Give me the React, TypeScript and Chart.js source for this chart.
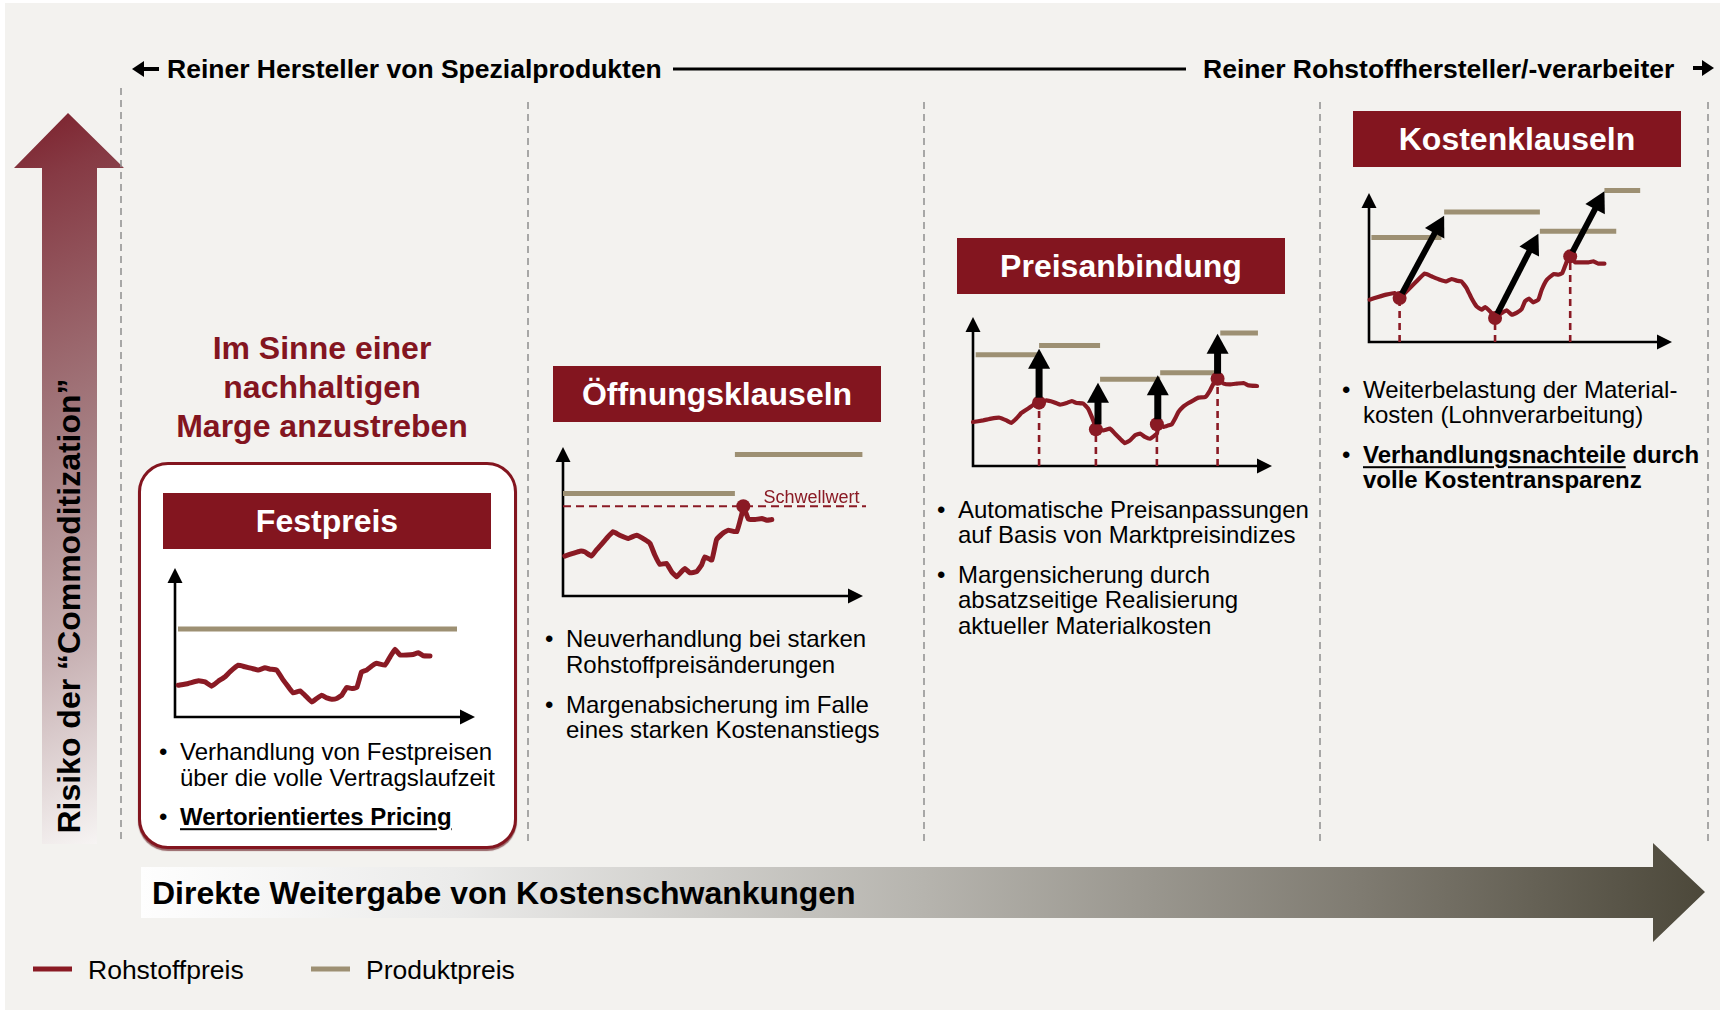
import React, { useEffect, useRef } from "react";
import { Chart, registerables } from "chart.js";

Chart.register(...registerables);

const FONT = '"Liberation Sans", Arial, Helvetica, sans-serif';
const RED = "#83151f";
const LINE_RED = "#8a1a24";
const TAN = "#9d9073";

type Pt = [number, number];
type Seg = [number, number, number];
type Arrow = [number, number, number, number];

// ---------------- DATA ----------------
const legendLabels = ["Rohstoffpreis", "Produktpreis"];
const columnTitles = ["Festpreis", "Öffnungsklauseln", "Preisanbindung", "Kostenklauseln"];

// Chart 1: Festpreis
const festRohstoff: Pt[] = [
  [1.1, 21.3], [4.4, 22.5], [7.8, 24.3], [10, 23.6], [12.2, 20.7], [14.4, 24], [16.7, 27], [18.3, 30.3],
  [21.1, 34.8], [23.3, 33.7], [25.6, 32.6], [27.8, 31.5], [30, 33], [31.7, 32.1], [33.9, 31.5], [36.1, 24.7],
  [37.8, 20.2], [39.4, 16.2], [41.7, 17.5], [43.3, 14.6], [45.6, 10.1], [47.2, 12.4], [48.9, 14.6], [50.6, 12.8],
  [52.2, 11.9], [53.9, 12.4], [55.6, 14.6], [57.2, 19.8], [58.9, 19.1], [60.6, 19.8], [62.2, 30.3], [63.9, 31.5],
  [65.6, 34.2], [67.2, 36], [70, 34.8], [71.7, 40.4], [73.3, 45.4], [75, 41.6], [77.2, 41.6], [79.4, 42],
  [81.1, 43.1], [82.8, 41.1], [85, 40.9],
];
const festProdukt: Seg[] = [[1, 94, 59]];

// Chart 2: Öffnungsklauseln
const oeffRohstoff: Pt[] = [
  [0.6, 26.8], [3.3, 28.6], [5.6, 30.1], [7.2, 29.7], [9.5, 26.8], [11.1, 30.8], [12.8, 34.6], [14.5, 38.6],
  [16.7, 43.1], [18.9, 40.8], [21.7, 38.6], [24.5, 40.8], [27.3, 37.9], [29, 35.3], [30.6, 27.5], [32.3, 21.2],
  [34.5, 21.9], [36.2, 16.3], [37.9, 12.9], [39.5, 16.3], [40.6, 18.5], [42.3, 15.6], [44.5, 16.3], [46.2, 20.8],
  [47.3, 26.3], [49.6, 24.1], [51.2, 37.9], [53.5, 42.4], [55.1, 44.2], [57.9, 43.1], [59.6, 54.9], [60.1, 60.3],
  [61.8, 51.6], [64, 51.3], [66.3, 52], [67.9, 50.9], [69.6, 51.3],
];
const oeffProdukt: Seg[] = [[0, 57.3, 68.8], [57.3, 99.8, 94.9]];
const oeffSchwelle = 60.3;
const oeffSchwelleLabel = "Schwellwert";
const oeffPunkte: Pt[] = [[60.1, 60.3]];

// Chart 3: Preisanbindung
const preisRohstoff: Pt[] = [
  [0, 29.5], [3.4, 30.6], [6.1, 31.8], [8.9, 32.4], [11.2, 30.6], [12.8, 28.9], [14.5, 31.8], [16.2, 35.6],
  [18.4, 38.5], [20.7, 41.8], [22.3, 43], [24.6, 44.1], [26.8, 43], [29.1, 41.2], [31.3, 42.3], [33, 43.6],
  [34.6, 42.3], [36.9, 41.8], [38.5, 38.5], [40.2, 30.6], [41.3, 24.6], [43.6, 23.9], [45.8, 25.1], [47.5, 21.7],
  [49.2, 18.3], [50.8, 15.4], [52.5, 17.2], [54.2, 20.6], [55.9, 21.7], [57.5, 19.5], [59.2, 18.3], [61.5, 21.7],
  [62, 28], [63.7, 26.2], [65.4, 27.3], [66.5, 28], [67.6, 31.8], [68.7, 36.2], [70.4, 40], [72.1, 42.3],
  [73.7, 44.1], [75.4, 45.9], [77.7, 46.3], [79.3, 50.8], [81, 57.5], [82.1, 57.9], [83.8, 55.3], [86, 54.8],
  [88.3, 55.3], [90.5, 55.7], [92.2, 54.1], [95, 53.7],
];
const preisProdukt: Seg[] = [
  [0.9, 22.1, 74.7], [22.1, 42.5, 80.8], [42.5, 62.6, 58.2], [62.6, 82.7, 62.6], [82.7, 95.3, 89.3],
];
const preisPunkte: Pt[] = [[22.1, 42.5], [41.1, 24.6], [61.5, 28], [81.8, 58.6]];
const preisPfeile: Arrow[] = [
  [22.1, 42.5, 22.1, 78.7], [41.8, 24.6, 41.8, 55.9], [61.8, 28, 61.8, 60.9], [81.8, 58.6, 81.8, 88.8],
];

// Chart 4: Kostenklauseln
const kostRohstoff: Pt[] = [
  [0.2, 28.4], [3, 30.2], [5.7, 31.8], [8.5, 32.9], [10.1, 29.5], [12.9, 35.1], [15.7, 40.7], [18.4, 45.9],
  [20.6, 44.1], [23.4, 41.8], [25.6, 40.7], [27.2, 42.3], [28.9, 41.2], [30.5, 40.7], [32.2, 36.2], [33.8, 29.5],
  [35.5, 23.9], [37.2, 21.7], [38.3, 23.5], [39.9, 20.6], [41.6, 16.8], [43.8, 19.5], [45.4, 21.3], [47.1, 18.3],
  [48.7, 19.5], [50.4, 22.1], [51.5, 27.3], [52.8, 29.1], [54.2, 26.6], [55.9, 28.4], [57, 35.1], [58.7, 41.8],
  [60.9, 45.6], [62.5, 45.2], [63.8, 46.3], [65.3, 54.1], [66.4, 57.5], [68, 53.5], [70.2, 53.5], [72.4, 53.5],
  [74.1, 54.1], [75.7, 52.6], [77.7, 52.6],
];
const kostProdukt: Seg[] = [[0.8, 23.9, 70.2], [24.8, 56.4, 87.2], [56.4, 81.6, 74.3], [77.7, 89.5, 101.6]];
const kostPunkte: Pt[] = [[10.1, 29.5], [41.6, 16.1], [66.4, 57.5]];
const kostPfeile: Arrow[] = [
  [10.1, 29.5, 24.8, 84.8], [41.6, 16.1, 55.9, 72.7], [66.4, 57.5, 77.7, 101.1],
];

// ---------------- CHART BUILDING ----------------
interface MiniSpec {
  rohstoff: Pt[];
  produkt: Seg[];
  punkte: Pt[];
  pfeile: Arrow[];
  drops: boolean;
  schwelle?: number;
  schwelleLabel?: string;
  lineWidth: number;
  shaft: number;
}

const specs: MiniSpec[] = [
  { rohstoff: festRohstoff, produkt: festProdukt, punkte: [], pfeile: [], drops: false, lineWidth: 5, shaft: 7 },
  {
    rohstoff: oeffRohstoff, produkt: oeffProdukt, punkte: oeffPunkte, pfeile: [], drops: false,
    schwelle: oeffSchwelle, schwelleLabel: oeffSchwelleLabel, lineWidth: 5, shaft: 7,
  },
  { rohstoff: preisRohstoff, produkt: preisProdukt, punkte: preisPunkte, pfeile: preisPfeile, drops: true, lineWidth: 4.2, shaft: 7 },
  { rohstoff: kostRohstoff, produkt: kostProdukt, punkte: kostPunkte, pfeile: kostPfeile, drops: true, lineWidth: 4.2, shaft: 6 },
];

const chartBoxes = [
  { left: 175, top: 568, width: 300, height: 149 },
  { left: 563, top: 447, width: 300, height: 149 },
  { left: 973, top: 317, width: 299, height: 149 },
  { left: 1369, top: 193, width: 303, height: 149 },
];
const PAD = 26;

function buildDatasets(spec: MiniSpec): any[] {
  const ds: any[] = [];
  if (spec.drops) {
    spec.punkte.forEach(([x, y]) =>
      ds.push({
        data: [{ x, y: 0 }, { x, y }], borderColor: LINE_RED, borderWidth: 2.6, borderDash: [7, 5],
        pointRadius: 0, order: 5, clip: false,
      })
    );
  }
  if (spec.schwelle !== undefined) {
    ds.push({
      data: [{ x: 0, y: spec.schwelle }, { x: 101, y: spec.schwelle }], borderColor: LINE_RED, borderWidth: 2,
      borderDash: [8, 5], pointRadius: 0, order: 4, clip: false,
    });
  }
  spec.produkt.forEach(([a, b, v]) =>
    ds.push({
      label: legendLabels[1], data: [{ x: a, y: v }, { x: b, y: v }], borderColor: TAN, borderWidth: 5,
      pointRadius: 0, order: 3, clip: false, borderCapStyle: "butt",
    })
  );
  ds.push({
    label: legendLabels[0], data: spec.rohstoff.map(([x, y]) => ({ x, y })), borderColor: LINE_RED,
    borderWidth: spec.lineWidth, pointRadius: 0, order: 2, clip: false, borderJoinStyle: "round",
    borderCapStyle: "round", tension: 0.1,
  });
  if (spec.punkte.length) {
    ds.push({
      data: spec.punkte.map(([x, y]) => ({ x, y })), showLine: false, pointRadius: 7,
      pointBackgroundColor: LINE_RED, pointBorderColor: LINE_RED, pointBorderWidth: 0, order: 1, clip: false,
    });
  }
  spec.pfeile.forEach(([x1, y1, x2, y2]) =>
    ds.push({
      data: [{ x: x1, y: y1 }, { x: x2, y: y2 }], showLine: false, pointRadius: 0, order: 0, clip: false,
      pfeil: { shaft: spec.shaft, head: 20, half: 11 },
    })
  );
  return ds;
}

const axesPlugin = {
  id: "miniAxes",
  beforeDatasetsDraw(chart: any) {
    const { ctx, chartArea } = chart;
    const { left, right, top, bottom } = chartArea;
    const head = 15;
    const half = 7.5;
    ctx.save();
    ctx.strokeStyle = "#000";
    ctx.fillStyle = "#000";
    ctx.lineWidth = 2.6;
    ctx.beginPath();
    ctx.moveTo(left, top + head - 1);
    ctx.lineTo(left, bottom);
    ctx.lineTo(right - head + 1, bottom);
    ctx.stroke();
    ctx.beginPath();
    ctx.moveTo(left, top);
    ctx.lineTo(left - half, top + head);
    ctx.lineTo(left + half, top + head);
    ctx.closePath();
    ctx.fill();
    ctx.beginPath();
    ctx.moveTo(right, bottom);
    ctx.lineTo(right - head, bottom - half);
    ctx.lineTo(right - head, bottom + half);
    ctx.closePath();
    ctx.fill();
    ctx.restore();
  },
};

const arrowPlugin = {
  id: "pfeile",
  afterDatasetsDraw(chart: any) {
    const ctx = chart.ctx;
    chart.data.datasets.forEach((ds: any, i: number) => {
      if (!ds.pfeil) return;
      const meta = chart.getDatasetMeta(i);
      const a = meta.data[0];
      const b = meta.data[1];
      if (!a || !b) return;
      const { shaft, head, half } = ds.pfeil;
      const dx = b.x - a.x;
      const dy = b.y - a.y;
      const len = Math.hypot(dx, dy);
      const ux = dx / len;
      const uy = dy / len;
      const sx = a.x + ux * 5;
      const sy = a.y + uy * 5;
      const bx = b.x - ux * head;
      const by = b.y - uy * head;
      ctx.save();
      ctx.strokeStyle = "#000";
      ctx.fillStyle = "#000";
      ctx.lineWidth = shaft;
      ctx.lineCap = "butt";
      ctx.beginPath();
      ctx.moveTo(sx, sy);
      ctx.lineTo(bx + ux, by + uy);
      ctx.stroke();
      ctx.beginPath();
      ctx.moveTo(b.x, b.y);
      ctx.lineTo(bx - uy * half, by + ux * half);
      ctx.lineTo(bx + uy * half, by - ux * half);
      ctx.closePath();
      ctx.fill();
      ctx.restore();
    });
  },
};

const thresholdLabelPlugin = {
  id: "schwelleLabel",
  afterDatasetsDraw(chart: any, _args: any, opts: any) {
    if (!opts || !opts.text) return;
    const { ctx, scales } = chart;
    const px = scales.x.getPixelForValue(opts.x);
    const py = scales.y.getPixelForValue(opts.y);
    ctx.save();
    ctx.font = `18px ${FONT}`;
    ctx.fillStyle = LINE_RED;
    ctx.textAlign = "left";
    ctx.textBaseline = "alphabetic";
    ctx.fillText(opts.text, px, py - 3);
    ctx.restore();
  },
};

function MiniChart({ spec, box }: { spec: MiniSpec; box: { left: number; top: number; width: number; height: number } }) {
  const ref = useRef<HTMLCanvasElement | null>(null);
  useEffect(() => {
    if (!ref.current) return;
    const chart = new Chart(ref.current, {
      type: "line",
      data: { datasets: buildDatasets(spec) },
      options: {
        animation: false,
        responsive: false,
        maintainAspectRatio: false,
        events: [],
        layout: { padding: PAD },
        plugins: {
          legend: { display: false },
          tooltip: { enabled: false },
          schwelleLabel: spec.schwelle !== undefined ? { text: spec.schwelleLabel, x: 66.8, y: spec.schwelle } : {},
        } as any,
        scales: {
          x: { type: "linear", min: 0, max: 100, display: false },
          y: { type: "linear", min: 0, max: 100, display: false },
        },
      },
      plugins: [axesPlugin, arrowPlugin, thresholdLabelPlugin],
    } as any);
    return () => chart.destroy();
  }, [spec]);
  const w = box.width + 2 * PAD;
  const h = box.height + 2 * PAD;
  return (
    <canvas
      ref={ref}
      width={w}
      height={h}
      style={{ position: "absolute", left: box.left - PAD, top: box.top - PAD, width: w, height: h }}
    />
  );
}

// ---------------- TEXT HELPERS ----------------
function Txt(props: {
  x: number; y: number; size?: number; bold?: boolean; color?: string; center?: boolean; children: React.ReactNode;
}) {
  const { x, y, size = 24, bold = false, color = "#000", center = false, children } = props;
  return (
    <div
      style={{
        position: "absolute", left: x, top: y, transform: center ? "translate(-50%,-50%)" : "translateY(-50%)",
        fontSize: size, fontWeight: bold ? 700 : 400, color, whiteSpace: "nowrap", lineHeight: 1.15, fontFamily: FONT,
      }}
    >
      {children}
    </div>
  );
}

function Bullet({ x, lines, bold = false }: { x: number; lines: [React.ReactNode, number][]; bold?: boolean }) {
  return (
    <>
      <Txt x={x - 21} y={lines[0][1]} size={24}>•</Txt>
      {lines.map(([t, y], i) => (
        <Txt key={i} x={x} y={y} size={24} bold={bold}>{t}</Txt>
      ))}
    </>
  );
}

function TitleBox({ x, y, text }: { x: number; y: number; text: string }) {
  return (
    <div
      style={{
        position: "absolute", left: x, top: y, width: 328, height: 56, background: RED, color: "#fff",
        fontFamily: FONT, fontWeight: 700, fontSize: 32, display: "flex", alignItems: "center", justifyContent: "center",
      }}
    >
      {text}
    </div>
  );
}

const dashedX = [121, 528, 924, 1320, 1708];

export default function App() {
  return (
    <div
      style={{
        position: "absolute", left: 0, top: 0, width: 1725, height: 1013, background: "#ffffff", overflow: "hidden",
        fontFamily: FONT,
      }}
    >
      <div style={{ position: "absolute", left: 5, top: 3, width: 1715, height: 1007, background: "#f3f2ef" }} />
      <svg width={1725} height={1013} style={{ position: "absolute", left: 0, top: 0 }}>
        <defs>
          <linearGradient id="vgrad" gradientUnits="userSpaceOnUse" x1="0" y1="110" x2="330" y2="850">
            <stop offset="0" stopColor="#7a1c28" />
            <stop offset="0.1" stopColor="#863a44" />
            <stop offset="0.4" stopColor="#a47c80" />
            <stop offset="0.65" stopColor="#c8b2b4" />
            <stop offset="0.88" stopColor="#f7f5f4" />
          </linearGradient>
          <linearGradient id="hgrad" x1="0" y1="0" x2="1" y2="0">
            <stop offset="0" stopColor="#fefefe" />
            <stop offset="0.2" stopColor="#ebebea" />
            <stop offset="0.5" stopColor="#b6b4ae" />
            <stop offset="0.78" stopColor="#7f7b71" />
            <stop offset="1" stopColor="#4c483a" />
          </linearGradient>
        </defs>
        <polygon points="68,113 124,168 97,168 97,844 42,844 42,168 14,168" fill="url(#vgrad)" />
        {dashedX.map((x, i) => (
          <line key={i} x1={x} x2={x} y1={i === 0 ? 88 : 102} y2={844} stroke="#8f8f8f" strokeWidth={1.5} strokeDasharray="7 5" />
        ))}
        <polygon points="141,867 1653,867 1653,843 1705,892 1653,942 1653,918 141,918" fill="url(#hgrad)" />
        {/* header arrows */}
        <polygon points="132,69 144,61 144,67 159,67 159,71 144,71 144,77" fill="#000" />
        <line x1={673} x2={1186} y1={69} y2={69} stroke="#000" strokeWidth={3} />
        <polygon points="1714,68 1702,60 1702,66 1693,66 1693,70 1702,70 1702,76" fill="#000" />
        {/* legend marks */}
        <line x1={33} x2={72} y1={969} y2={969} stroke={LINE_RED} strokeWidth={5} />
        <line x1={311} x2={350} y1={969} y2={969} stroke={TAN} strokeWidth={5} />
      </svg>

      {/* header texts */}
      <Txt x={167} y={69} size={26.5} bold>Reiner Hersteller von Spezialprodukten</Txt>
      <Txt x={1203} y={69} size={26.5} bold>Reiner Rohstoffhersteller/-verarbeiter</Txt>

      {/* vertical axis label */}
      <div
        style={{
          position: "absolute", left: 69, top: 606, transform: "translate(-50%,-50%) rotate(-90deg)",
          fontSize: 32, fontWeight: 700, whiteSpace: "nowrap", color: "#000", lineHeight: 1,
        }}
      >
        Risiko der “Commoditization”
      </div>

      {/* column 1 */}
      <Txt x={322} y={348} size={32} bold color={RED} center>Im Sinne einer</Txt>
      <Txt x={322} y={387} size={32} bold color={RED} center>nachhaltigen</Txt>
      <Txt x={322} y={426} size={32} bold color={RED} center>Marge anzustreben</Txt>
      <div
        style={{
          position: "absolute", left: 138, top: 462, width: 379, height: 387, boxSizing: "border-box",
          border: `3px solid ${RED}`, borderRadius: 30, background: "#ffffff", boxShadow: "0 2px 1px rgba(90,10,15,0.6)",
        }}
      />
      <TitleBox x={163} y={493} text={columnTitles[0]} />
      <Bullet x={180} lines={[["Verhandlung von Festpreisen", 752], ["über die volle Vertragslaufzeit", 778]]} />
      <Bullet x={180} bold lines={[[<span style={{ textDecoration: "underline", textUnderlineOffset: 3 }}>Wertorientiertes Pricing</span>, 817]]} />

      {/* column 2 */}
      <TitleBox x={553} y={366} text={columnTitles[1]} />
      <Bullet x={566} lines={[["Neuverhandlung bei starken", 639], ["Rohstoffpreisänderungen", 665]]} />
      <Bullet x={566} lines={[["Margenabsicherung im Falle", 705], ["eines starken Kostenanstiegs", 730]]} />

      {/* column 3 */}
      <TitleBox x={957} y={238} text={columnTitles[2]} />
      <Bullet x={958} lines={[["Automatische Preisanpassungen", 510], ["auf Basis von Marktpreisindizes", 535]]} />
      <Bullet
        x={958}
        lines={[["Margensicherung durch", 575], ["absatzseitige Realisierung", 600], ["aktueller Materialkosten", 626]]}
      />

      {/* column 4 */}
      <TitleBox x={1353} y={111} text={columnTitles[3]} />
      <Bullet x={1363} lines={[["Weiterbelastung der Material-", 390], ["kosten (Lohnverarbeitung)", 415]]} />
      <Bullet
        x={1363}
        bold
        lines={[
          [<><span style={{ textDecoration: "underline", textUnderlineOffset: 3 }}>Verhandlungsnachteile</span> durch</>, 455],
          ["volle Kostentransparenz", 480],
        ]}
      />

      {/* bottom arrow text */}
      <Txt x={152} y={893} size={32} bold>Direkte Weitergabe von Kostenschwankungen</Txt>

      {/* legend */}
      <Txt x={88} y={970} size={26.5}>{legendLabels[0]}</Txt>
      <Txt x={366} y={970} size={26.5}>{legendLabels[1]}</Txt>

      {specs.map((s, i) => (
        <MiniChart key={i} spec={s} box={chartBoxes[i]} />
      ))}
    </div>
  );
}
